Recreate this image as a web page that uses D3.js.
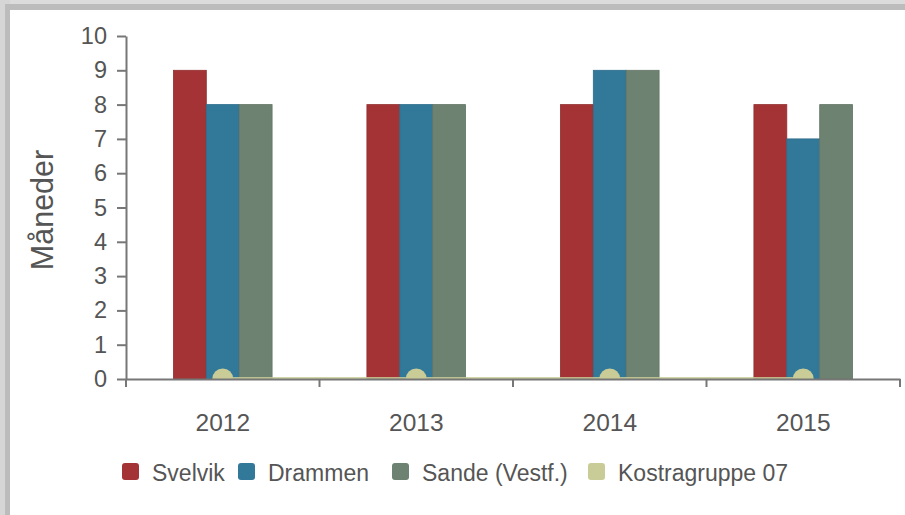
<!DOCTYPE html>
<html>
<head>
<meta charset="utf-8">
<script src="https://cdn.jsdelivr.net/npm/d3@7"></script>
<style>
  body { margin: 0; background: #fff; }
  text { font-family: "Liberation Sans", Arial, sans-serif; fill: #555; }
</style>
</head>
<body>
<div id="chart"></div>
<script>
var svgWidth = 905;
var svgHeight = 515;

// chart data
var years = ["2012", "2013", "2014", "2015"];
var seriesNames = ["Svelvik", "Drammen", "Sande (Vestf.)"];
var svelvik = [9, 8, 8, 8];
var drammen = [8, 8, 9, 7];
var sande = [8, 8, 9, 8];
var kostra = [0, 0, 0, 0];
var lineName = "Kostragruppe 07";
var yTicks = [0, 1, 2, 3, 4, 5, 6, 7, 8, 9, 10];

var colors = ["#a33335", "#317899", "#6d8270"];
var lineColor = "#c9cc96";

var margin = { top: 36, right: 5, bottom: 136, left: 126 };
var width = svgWidth - margin.left - margin.right;
var height = svgHeight - margin.top - margin.bottom;

var svg = d3.select("#chart")
  .append("svg")
  .attr("width", svgWidth)
  .attr("height", svgHeight);

// frame (shadowed panel edges)
svg.append("rect").attr("x", 0).attr("y", 0).attr("width", svgWidth).attr("height", 10).attr("fill", "#dcdcdc");
svg.append("rect").attr("x", 0).attr("y", 4).attr("width", svgWidth).attr("height", 6).attr("fill", "#bcbcbc");
svg.append("rect").attr("x", 0).attr("y", 0).attr("width", 10).attr("height", svgHeight).attr("fill", "#d6d6d6");
svg.append("rect").attr("x", 5).attr("y", 4).attr("width", 5).attr("height", svgHeight).attr("fill", "#bcbcbc");
svg.append("rect").attr("x", 10).attr("y", 10).attr("width", svgWidth - 10).attr("height", svgHeight - 10).attr("fill", "#fff");

var chartGroup = svg.append("g")
  .attr("transform", `translate(${margin.left}, ${margin.top})`);

var x0 = d3.scaleBand().domain(years).range([0, width]);
var x1 = d3.scaleBand().domain(seriesNames)
  .range([x0.bandwidth() * 0.245, x0.bandwidth() * 0.755]);
var y = d3.scaleLinear().domain([0, 10]).range([height, 0]);

var data = years.map(function(yr, i) {
  return { year: yr, values: [svelvik[i], drammen[i], sande[i]] };
});

// bars
var groups = chartGroup.selectAll(".grp")
  .data(data)
  .enter()
  .append("g")
  .attr("transform", d => `translate(${x0(d.year)}, 0)`);

groups.selectAll("rect")
  .data(d => d.values.map((v, j) => ({ name: seriesNames[j], value: v, c: colors[j] })))
  .enter()
  .append("rect")
  .attr("x", d => x1(d.name))
  .attr("y", d => y(d.value))
  .attr("width", x1.bandwidth())
  .attr("height", d => height - y(d.value))
  .attr("fill", d => d.c)
  .attr("stroke", d => d3.color(d.c).darker(0.3))
  .attr("stroke-width", 0.8);

// clip for line series
svg.append("clipPath").attr("id", "plotclip")
  .append("rect").attr("x", 0).attr("y", -10).attr("width", width).attr("height", height + 10);

var lineG = chartGroup.append("g").attr("clip-path", "url(#plotclip)");
var line = d3.line()
  .x((d, i) => x0(years[i]) + x0.bandwidth() / 2)
  .y(d => y(d));

lineG.append("path")
  .datum(kostra)
  .attr("d", line)
  .attr("fill", "none")
  .attr("stroke", lineColor)
  .attr("stroke-opacity", 0.85)
  .attr("stroke-width", 4);

lineG.selectAll("circle")
  .data(kostra)
  .enter()
  .append("circle")
  .attr("cx", (d, i) => x0(years[i]) + x0.bandwidth() / 2)
  .attr("cy", d => y(d))
  .attr("r", 10.5)
  .attr("fill", lineColor);

// axes
var leftAxis = d3.axisLeft(y).tickValues(yTicks).tickSize(9).tickSizeOuter(0);
var yAxis = chartGroup.append("g").call(leftAxis);
yAxis.select(".domain").attr("stroke", "#777").attr("stroke-width", 2);
yAxis.selectAll(".tick line").attr("stroke", "#777").attr("stroke-width", 2);
yAxis.selectAll("text").attr("x", -19).style("font-size", "23.5px").attr("fill", "#555");

var bottomAxis = d3.axisBottom(x0).tickSize(0).tickSizeOuter(0);
var xAxis = chartGroup.append("g")
  .attr("transform", `translate(0, ${height})`)
  .call(bottomAxis);
xAxis.select(".domain").attr("stroke", "#777").attr("stroke-width", 2);
xAxis.selectAll("text").attr("y", 0).attr("dy", "52px").style("font-size", "24.5px").attr("fill", "#555");

// category separators
xAxis.selectAll(".sep")
  .data(years.concat(["end"]))
  .enter()
  .append("line")
  .attr("x1", (d, i) => i * x0.step())
  .attr("x2", (d, i) => i * x0.step())
  .attr("y1", 0)
  .attr("y2", 8)
  .attr("stroke", "#777")
  .attr("stroke-width", 2);

// y label
svg.append("text")
  .attr("transform", "rotate(-90)")
  .attr("x", -210)
  .attr("y", 53)
  .attr("text-anchor", "middle")
  .style("font-size", "30.5px")
  .attr("fill", "#555")
  .text("Måneder");

// legend
var legendItems = [
  { name: seriesNames[0], c: colors[0], x: 122 },
  { name: seriesNames[1], c: colors[1], x: 238 },
  { name: seriesNames[2], c: colors[2], x: 392 },
  { name: lineName, c: lineColor, x: 588 }
];
var legend = svg.append("g");
var li = legend.selectAll("g")
  .data(legendItems)
  .enter()
  .append("g")
  .attr("transform", d => `translate(${d.x}, 463)`);
li.append("rect")
  .attr("width", 17).attr("height", 17).attr("rx", 3)
  .attr("fill", d => d.c);
li.append("text")
  .attr("x", 30).attr("y", 18)
  .style("font-size", "23px")
  .attr("fill", "#555")
  .text(d => d.name);
</script>
</body>
</html>
